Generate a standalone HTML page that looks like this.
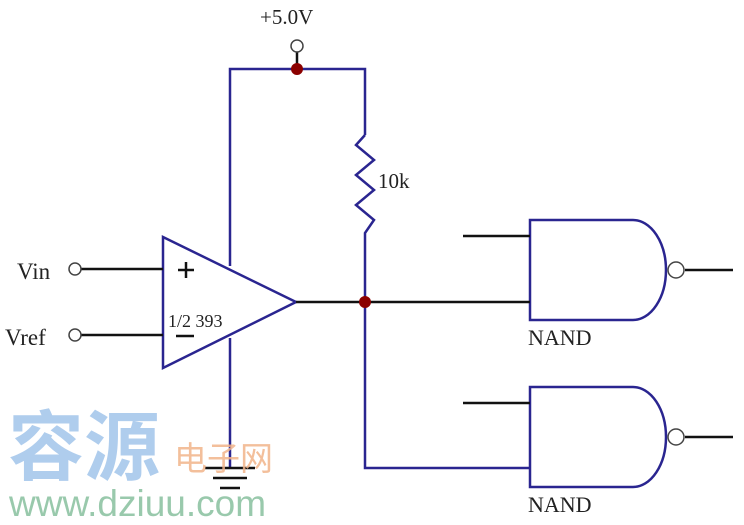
<!DOCTYPE html>
<html><head><style>
html,body{margin:0;padding:0;background:#fff;}
svg{display:block;}
</style></head><body>
<svg width="744" height="525" viewBox="0 0 744 525" xmlns="http://www.w3.org/2000/svg">
<g fill="none" stroke="#2a2590" stroke-width="2.5">
<polyline points="230,266 230,69 365,69 365,135"/>
<polyline points="365,135 356,145 374,160 356,175 374,190 356,205 374,220 365,233 365,468 530,468"/>
<line x1="230" y1="338" x2="230" y2="468"/>
<polygon points="163,237 163,368 296,302"/>
<path d="M530,220 H633 A33,50 0 0 1 633,320 H530 Z"/>
<path d="M530,387 H633 A33,50 0 0 1 633,487 H530 Z"/>
</g>
<g stroke="#111" stroke-width="2.5">
<line x1="81" y1="269" x2="163" y2="269"/>
<line x1="81" y1="335" x2="163" y2="335"/>
<line x1="296" y1="302" x2="530" y2="302"/>
<line x1="463" y1="236" x2="530" y2="236"/>
<line x1="463" y1="403" x2="530" y2="403"/>
<line x1="685" y1="270" x2="733" y2="270"/>
<line x1="685" y1="437" x2="733" y2="437"/>
<line x1="297" y1="52" x2="297" y2="69"/>
<line x1="178" y1="270" x2="194" y2="270"/>
<line x1="186" y1="262" x2="186" y2="278"/>
<line x1="176" y1="336" x2="194" y2="336"/>
<line x1="205" y1="468" x2="255" y2="468"/>
<line x1="213" y1="478" x2="247" y2="478"/>
<line x1="220" y1="488" x2="240" y2="488"/>
</g>
<g fill="#fff" stroke="#444" stroke-width="1.5">
<circle cx="75" cy="269" r="6"/>
<circle cx="75" cy="335" r="6"/>
<circle cx="297" cy="46" r="6"/>
<circle cx="676" cy="270" r="8"/>
<circle cx="676" cy="437" r="8"/>
</g>
<g fill="#8b0000">
<circle cx="297" cy="69" r="6"/>
<circle cx="365" cy="302" r="6"/>
</g>
<g font-family="Liberation Serif, serif" fill="#222">
<text x="260" y="24" font-size="21">+5.0V</text>
<text x="378" y="188" font-size="21">10k</text>
<text x="17" y="279" font-size="23">Vin</text>
<text x="5" y="345" font-size="23">Vref</text>
<text x="168" y="327" font-size="18">1/2 393</text>
<text x="528" y="345" font-size="22">NAND</text>
<text x="528" y="512" font-size="22">NAND</text>
</g>
<g font-family="Liberation Sans, Noto Sans CJK SC, sans-serif">
<text x="8" y="474" font-size="76" font-weight="bold" fill="#a7c8ec" opacity="0.9">容源</text>
<text x="174" y="470" font-size="33" fill="#f2b48a" opacity="0.85">电子网</text>
<text x="9" y="516" font-size="37" fill="#8fc4a4" opacity="0.9">www.dziuu.com</text>
</g>
</svg>
</body></html>
